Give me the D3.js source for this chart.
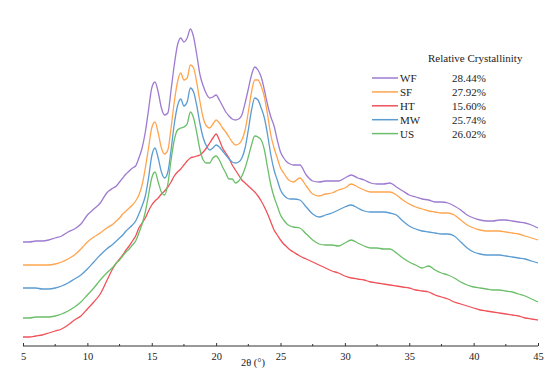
<!DOCTYPE html>
<html>
<head>
<meta charset="utf-8">
<script src="https://cdn.jsdelivr.net/npm/d3@7"></script>
<style>
html,body{margin:0;padding:0;background:#fff;}
svg{display:block;}
text{font-family:"Liberation Serif","Times New Roman",serif;fill:#222;}
</style>
</head>
<body>
<svg id="chart" width="550" height="373"></svg>
<script>
// 2θ grid (degrees)
const twoTheta = [5,5.5,6,6.5,7,7.5,8,8.5,9,9.5,10,10.5,11,11.5,
12,12.25,12.5,12.75,13,13.25,13.5,13.75,14,14.25,14.5,14.75,15,15.25,15.5,15.75,16,16.25,16.5,16.75,17,17.25,17.5,17.75,18,18.25,18.5,18.75,19,19.25,19.5,19.75,20,20.25,20.5,20.75,21,21.25,21.5,21.75,22,22.25,22.5,22.75,23,23.25,23.5,23.75,24,24.25,24.5,24.75,25,25.25,25.5,25.75,
26,26.5,27,27.5,28,28.5,29,29.5,30,30.5,31,31.5,32,32.5,33,33.5,34,34.5,35,35.5,36,36.5,37,37.5,38,38.5,39,39.5,40,40.5,41,41.5,42,42.5,43,43.5,44,44.5,45];

// Intensities (a.u., stacked as in the figure)
const WF = [103,103,104,104,105,107,109,113,116,121,130,136,142,152,
157,159,163,167,171,174,177,179,187,197,213,235,257,263,253,237,230,232,255,280,300,307,303,307,316,308,290,270,259,251,247,248,250,245,239,233,229,226,225,226,230,242,256,270,278,275,268,255,240,228,219,205,193,187,183,181,
180,180,170,164,163,164,164,164,167,170,167,165,162,161,161,162,158,154,150,148,146,145,143,143,142,139,135,130,127,125,124,124,125,125,124,123,122,120,117];

const SF = [80,80,80,80,80,81,83,86,90,96,103,108,112,117,
121,124,127,131,134,137,140,144,150,160,177,197,217,223,212,197,191,195,217,243,263,272,265,267,280,277,262,243,227,219,217,221,225,222,217,213,208,203,200,201,205,215,233,253,265,265,259,248,230,210,197,187,177,172,167,164,
163,167,159,151,149,151,152,155,157,161,158,155,153,153,153,153,150,145,141,138,136,134,133,132,132,130,125,120,117,115,114,114,114,113,112,111,109,107,105];

const HT = [8,8,9,10,12,14,16,20,25,29,36,43,51,64,
77,82,86,90,95,99,104,109,117,122,127,134,140,144,147,151,154,158,163,169,173,176,180,184,187,188,189,190,193,197,202,207,211,205,197,192,187,180,175,170,165,162,159,156,153,149,144,138,131,123,115,110,105,101,98,95,
93,89,86,83,80,77,74,72,69,67,66,65,63,62,61,60,59,58,57,55,54,53,50,48,46,43,41,39,37,35,34,33,32,31,30,29,27,26,25];

const MW = [57,57,57,56,56,57,59,62,66,70,76,83,90,96,
101,104,107,110,114,117,120,124,131,139,149,167,189,197,187,173,167,173,195,221,239,246,239,243,257,253,239,221,207,199,195,197,200,198,194,190,186,183,182,183,187,197,215,235,247,245,237,227,210,190,175,165,155,150,147,146,
146,145,138,131,128,130,132,135,138,140,137,134,133,133,133,132,130,124,119,116,114,113,112,111,111,109,103,97,93,91,90,90,90,89,88,87,86,84,82];

const US = [27,27,28,28,28,29,31,34,38,43,50,57,65,72,
78,82,85,89,93,96,100,104,112,121,133,150,167,173,163,153,150,161,185,205,215,217,218,221,233,227,212,195,185,182,182,187,189,185,178,172,166,166,162,164,169,177,188,200,209,208,205,195,177,160,148,139,130,125,121,119,
118,117,111,105,101,100,100,99,102,105,102,99,97,97,96,96,92,87,83,80,77,79,75,72,70,67,63,60,58,57,56,55,55,54,53,51,49,46,43];

const seriesNames = ["WF","SF","HT","MW","US"];
const crystallinity = ["28.44%","27.92%","15.60%","25.74%","26.02%"];
const colors = ["#9e7bd0","#ffa54f","#f0525a","#5b9cd3","#6cbf6a"];
const xTicks = [5,10,15,20,25,30,35,40,45];
const xMinorTicks = [7.5,12.5,17.5,22.5,27.5,32.5,37.5,42.5];

const dataBySeries = [WF, SF, HT, MW, US];

const svg = d3.select("#chart");
const x = d3.scaleLinear().domain([5,45]).range([23,538]);
const y = d3.scaleLinear().domain([0,320]).range([345,25]);

// axis
const axisY = 346;
const ax = svg.append("g").attr("transform",`translate(0,${axisY})`);
ax.call(d3.axisBottom(x).tickValues(xTicks).tickSize(-3).tickPadding(5).tickFormat(d3.format("d")));
ax.select(".domain").attr("stroke","#333").attr("stroke-width",1).attr("d",`M${x(5)},0H${x(45)}`);
ax.selectAll(".tick line").attr("stroke","#333");
ax.selectAll(".tick text").attr("font-size","10.5px").attr("font-family","Liberation Serif, Times New Roman, serif").attr("fill","#222").attr("dy","0.9em");
ax.selectAll(".minor").data(xMinorTicks).enter().append("line")
  .attr("x1",d=>x(d)).attr("x2",d=>x(d)).attr("y1",0).attr("y2",-2)
  .attr("stroke","#333");

svg.append("text").attr("x",253).attr("y",366).attr("text-anchor","middle")
  .attr("font-size","10.5px").text("2θ (°)");

// lines
const line = d3.line().x((d,i)=>x(twoTheta[i])).y(d=>y(d)).curve(d3.curveMonotoneX);
dataBySeries.forEach((s,k)=>{
  svg.append("path").datum(s).attr("d",line)
    .attr("fill","none").attr("stroke",colors[k]).attr("stroke-width",1.3)
    .attr("stroke-linejoin","round");
});

// legend
svg.append("text").attr("x",428).attr("y",62).attr("font-size","11px").text("Relative Crystallinity");
const lg = svg.append("g");
seriesNames.forEach((n,k)=>{
  const yy = 78 + k*13.9;
  lg.append("line").attr("x1",372).attr("x2",398).attr("y1",yy).attr("y2",yy)
    .attr("stroke",colors[k]).attr("stroke-width",1.5);
  lg.append("text").attr("x",400).attr("y",yy+4).attr("font-size","11px").text(n);
  lg.append("text").attr("x",452).attr("y",yy+4).attr("font-size","11px").text(crystallinity[k]);
});
</script>
</body>
</html>
